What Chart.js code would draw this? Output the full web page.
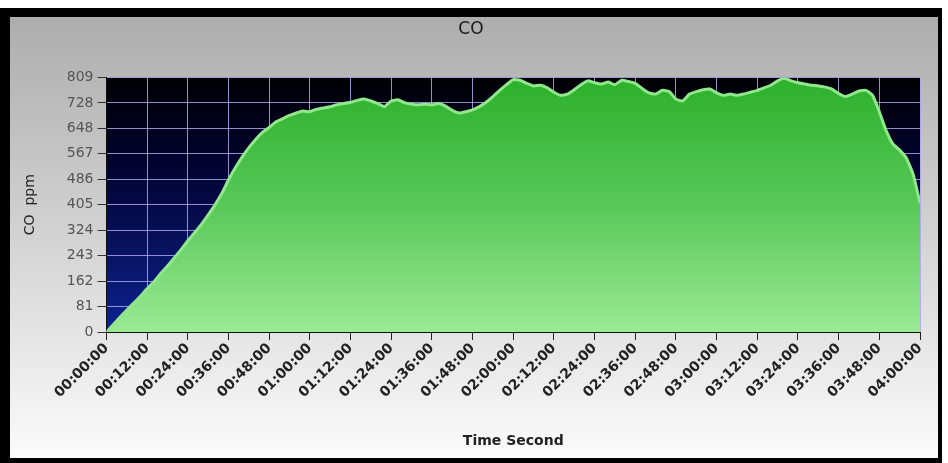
<!DOCTYPE html>
<html>
<head>
<meta charset="utf-8">
<script src="https://cdn.jsdelivr.net/npm/chart.js@4/dist/chart.umd.min.js"></script>
<style>
  html, body { margin: 0; padding: 0; background: #ffffff; width: 948px; height: 463px; overflow: hidden; }
  #frame { position: absolute; left: 0px; top: 8px; width: 942px; height: 455px; background: #000; }
  #c { position: absolute; left: 10px; top: 9px; }
</style>
</head>
<body>
<div id="frame"><canvas id="c" width="928" height="441"></canvas></div>
<script>
// ---- data ----
const minutes = [0,2,4,6,8,10,12,14,16,18,20,22,24,26,28,30,32,34,36,38,40,42,44,46,48,50,52,54,56,58,60,
  62,64,66,68,70,72,74,76,78,80,82,84,86,88,90,92,94,96,98,100,102,104,106,108,110,112,114,116,118,120,
  122,124,126,128,130,132,134,136,138,140,142,144,146,148,150,152,154,156,158,160,162,164,166,168,170,172,
  174,176,178,180,182,184,186,188,190,192,194,196,198,200,202,204,206,208,210,212,214,216,218,220,222,224,
  226,228,230,232,234,236,238,240];
const coPpm = [0,24,48,70,92,114,138,160,186,210,236,262,290,316,342,372,404,440,484,522,556,586,612,634,650,668,678,688,696,702,700,
  708,712,716,722,726,730,736,740,734,726,716,734,738,728,724,722,724,722,726,718,704,696,700,706,716,730,748,768,786,802,
  800,790,782,784,776,762,752,756,770,786,798,792,788,794,786,800,796,790,774,760,756,768,764,740,734,756,
  764,770,772,760,752,756,752,756,762,768,776,784,798,806,798,792,788,784,782,778,772,758,748,756,766,768,
  752,700,640,598,578,552,500,410];
const xTickLabels = ['00:00:00','00:12:00','00:24:00','00:36:00','00:48:00','01:00:00','01:12:00','01:24:00','01:36:00','01:48:00',
  '02:00:00','02:12:00','02:24:00','02:36:00','02:48:00','03:00:00','03:12:00','03:24:00','03:36:00','03:48:00','04:00:00'];
const yTickLabels = ['0','81','162','243','324','405','486','567','648','728','809'];
const yMax = 809;
const titleText = 'CO';
const xTitle = 'Time Second';
const yTitle = 'CO  ppm';

const points = minutes.map((m, i) => ({ x: m, y: coPpm[i] }));

const bgPlugin = {
  id: 'bgPlugin',
  beforeDraw(chart) {
    const { ctx, width, height, chartArea } = chart;
    ctx.save();
    const g = ctx.createLinearGradient(0, 0, 0, height);
    g.addColorStop(0, '#adadad');
    g.addColorStop(0.45, '#cfcfcf');
    g.addColorStop(1, '#fbfbfb');
    ctx.fillStyle = g;
    ctx.fillRect(0, 0, width, height);
    const g2 = ctx.createLinearGradient(0, chartArea.top, 0, chartArea.bottom);
    g2.addColorStop(0, '#000003');
    g2.addColorStop(0.35, '#020330');
    g2.addColorStop(1, '#0c2292');
    ctx.fillStyle = g2;
    ctx.fillRect(chartArea.left, chartArea.top, chartArea.right - chartArea.left, chartArea.bottom - chartArea.top);
    ctx.restore();
  }
};

new Chart(document.getElementById('c'), {
  type: 'line',
  data: {
    datasets: [{
      data: points,
      borderColor: '#8fe88a',
      borderWidth: 3,
      pointRadius: 0,
      tension: 0.15,
      fill: 'origin',
      backgroundColor(ctx) {
        const ca = ctx.chart.chartArea;
        if (!ca) return '#4cc24c';
        const g = ctx.chart.ctx.createLinearGradient(0, ca.top, 0, ca.bottom);
        g.addColorStop(0, '#2cb02a');
        g.addColorStop(0.5, '#58c858');
        g.addColorStop(1, '#9aea94');
        return g;
      }
    }]
  },
  options: {
    responsive: false,
    devicePixelRatio: 1,
    animation: false,
    layout: { padding: { top: 2, left: 12, right: 18, bottom: 8 } },
    plugins: {
      legend: { display: false },
      tooltip: { enabled: false },
      title: {
        display: true, text: titleText, color: '#1a1a1a',
        font: { family: 'DejaVu Sans', size: 17, weight: 'normal' },
        padding: { top: 0, bottom: 38 }
      }
    },
    scales: {
      x: {
        type: 'linear', min: 0, max: 240,
        afterBuildTicks(scale) { scale.ticks = xTickLabels.map((_, i) => ({ value: i * 12 })); },
        ticks: {
          autoSkip: false, minRotation: 45, maxRotation: 45, padding: 0,
          color: '#222',
          font: { family: 'DejaVu Sans', size: 14, weight: 'bold' },
          callback(v, i) { return xTickLabels[i]; }
        },
        grid: { color: 'rgba(175,165,235,0.85)', lineWidth: 1, tickColor: '#222', tickLength: 8, drawOnChartArea: true },
        border: { display: true, color: '#111', width: 1 },
        title: {
          display: true, text: xTitle, color: '#222',
          font: { family: 'DejaVu Sans', size: 14, weight: 'bold' },
          padding: { top: 32, bottom: 0 }
        }
      },
      y: {
        type: 'linear', min: 0, max: yMax,
        afterBuildTicks(scale) { scale.ticks = yTickLabels.map((_, i) => ({ value: i * yMax / 10 })); },
        ticks: {
          autoSkip: false, padding: 4, color: '#555',
          font: { family: 'DejaVu Sans', size: 14 },
          callback(v, i) { return yTickLabels[i]; }
        },
        grid: { color: 'rgba(175,165,235,0.85)', lineWidth: 1, tickColor: '#333', tickLength: 9 },
        border: { display: true, color: '#111', width: 1 },
        title: {
          display: true, text: yTitle, color: '#222',
          font: { family: 'DejaVu Sans', size: 14 },
          padding: { top: 0, bottom: 24 }
        }
      }
    }
  },
  plugins: [bgPlugin]
});
</script>
</body>
</html>
